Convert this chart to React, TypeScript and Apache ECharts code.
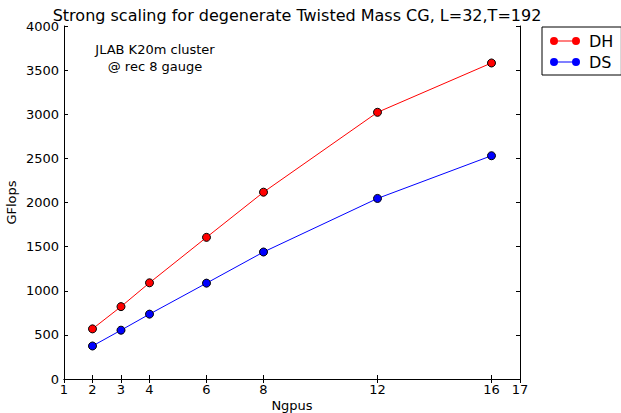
import React, { useEffect, useRef } from "react";
import * as echarts from "echarts";

const ngpus = [2, 3, 4, 6, 8, 12, 16];
const dhValues = [568, 820, 1090, 1605, 2117, 3022, 3581];
const dsValues = [374, 553, 735, 1086, 1439, 2046, 2530];
const xTicks = [1, 2, 3, 4, 6, 8, 12, 16, 17];
const titleText = "Strong scaling for degenerate Twisted Mass CG, L=32,T=192";
const noteLines = ["JLAB K20m cluster", "@ rec 8 gauge"];

const FONT = "DejaVu Sans";

export default function App() {
  const ref = useRef<HTMLDivElement>(null);
  useEffect(() => {
    if (!ref.current) return;
    const chart = echarts.init(ref.current, null, { renderer: "svg" });
    const icon =
      "path://M0,4 A4,4 0 1,1 8,4 A4,4 0 1,1 0,4 Z M22,4 A4,4 0 1,1 30,4 A4,4 0 1,1 22,4 Z M7,3.5 L23,3.5 L23,4.5 L7,4.5 Z";
    const tickStyle = { inside: true, length: 4, lineStyle: { color: "#000", width: 1 } };
    const fmt = (v: number) => String(v);
    chart.setOption({
      animation: false,
      backgroundColor: "#fff",
      textStyle: { fontFamily: FONT },
      title: {
        text: titleText,
        left: 292,
        textAlign: "center",
        top: 2,
        textStyle: { fontFamily: FONT, fontSize: 16, fontWeight: "normal", color: "#000" },
      },
      grid: { left: 64, top: 26, right: 101, bottom: 34, containLabel: false, outerBoundsMode: "none" },
      legend: {
        left: 542,
        top: 27,
        orient: "vertical",
        backgroundColor: "#fff",
        borderColor: "#000",
        borderWidth: 1,
        borderRadius: 0,
        padding: [6, 8, 5, 8],
        itemWidth: 30,
        itemHeight: 8,
        itemGap: 5,
        icon,
        itemStyle: { borderWidth: 0 },
        textStyle: { fontFamily: FONT, fontSize: 16, color: "#000", padding: [0, 0, 0, 4] },
        data: ["DH", "DS"],
      },
      xAxis: [
        {
          type: "value",
          min: 1,
          max: 17,
          name: "Ngpus",
          nameLocation: "middle",
          nameGap: 20,
          nameMoveOverlap: false,
          nameTextStyle: { fontFamily: FONT, fontSize: 13, color: "#000" },
          axisLine: { show: true, lineStyle: { color: "#000", width: 1 } },
          axisTick: { ...tickStyle, customValues: xTicks },
          axisLabel: { customValues: xTicks, formatter: fmt, fontFamily: FONT, fontSize: 13, color: "#000", margin: 4 },
          splitLine: { show: false },
        },
        {
          type: "value",
          position: "top",
          min: 1,
          max: 17,
          axisLine: { show: true, lineStyle: { color: "#000", width: 1 } },
          axisTick: { ...tickStyle, customValues: xTicks },
          axisLabel: { show: false },
          splitLine: { show: false },
        },
      ],
      yAxis: [
        {
          type: "value",
          min: 0,
          max: 4000,
          interval: 500,
          name: "GFlops",
          nameLocation: "middle",
          nameGap: 46,
          nameMoveOverlap: false,
          nameTextStyle: { fontFamily: FONT, fontSize: 13, color: "#000" },
          axisLine: { show: true, lineStyle: { color: "#000", width: 1 } },
          axisTick: tickStyle,
          axisLabel: { formatter: fmt, fontFamily: FONT, fontSize: 13, color: "#000", margin: 5 },
          splitLine: { show: false },
        },
        {
          type: "value",
          position: "right",
          min: 0,
          max: 4000,
          interval: 500,
          axisLine: { show: true, lineStyle: { color: "#000", width: 1 } },
          axisTick: tickStyle,
          axisLabel: { show: false },
          splitLine: { show: false },
        },
      ],
      graphic: noteLines.map((t, i) => ({
        type: "text",
        x: 155,
        y: 49 + i * 17,
        style: {
          text: t,
          fill: "#000",
          font: `13px "${FONT}"`,
          textAlign: "center",
          textVerticalAlign: "middle",
        },
      })),
      series: [
        {
          name: "DH",
          type: "line",
          data: ngpus.map((x, i) => [x, dhValues[i]]),
          symbol: "circle",
          symbolSize: 8,
          color: "#ff0000",
          lineStyle: { color: "#ff0000", width: 1 },
          itemStyle: { color: "#ff0000", borderColor: "#000", borderWidth: 1 },
        },
        {
          name: "DS",
          type: "line",
          data: ngpus.map((x, i) => [x, dsValues[i]]),
          symbol: "circle",
          symbolSize: 8,
          color: "#0000ff",
          lineStyle: { color: "#0000ff", width: 1 },
          itemStyle: { color: "#0000ff", borderColor: "#000", borderWidth: 1 },
        },
      ],
    });
    return () => chart.dispose();
  }, []);
  return <div ref={ref} style={{ width: 621, height: 413, position: "absolute", left: 0, top: 0 }} />;
}
